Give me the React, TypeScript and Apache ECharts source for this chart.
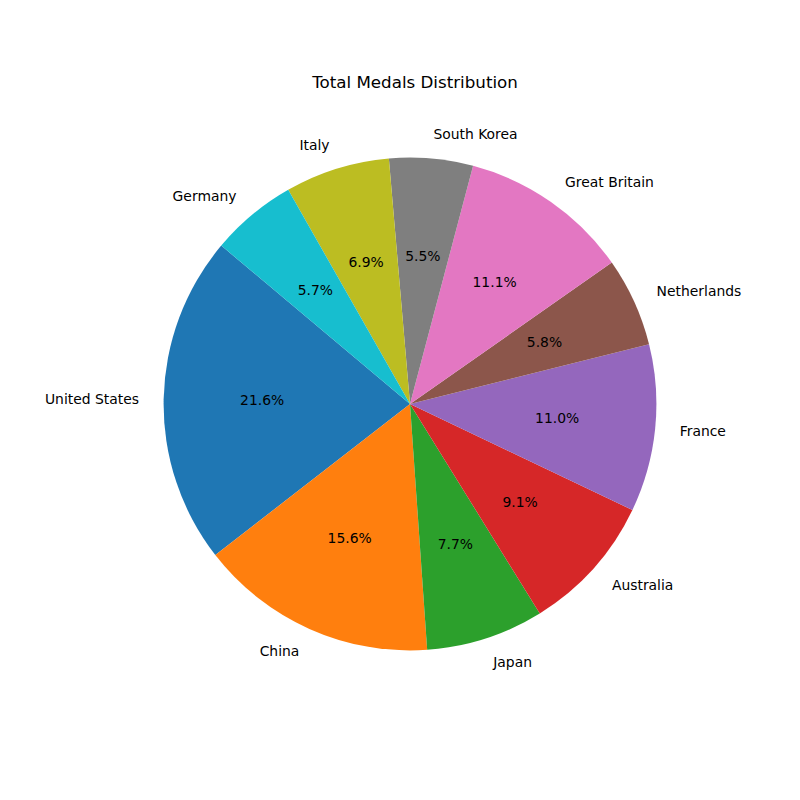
import React, { useEffect, useRef } from "react";
import * as echarts from "echarts";

const countries = [
  "United States",
  "China",
  "Japan",
  "Australia",
  "France",
  "Netherlands",
  "Great Britain",
  "South Korea",
  "Italy",
  "Germany",
];
const totalMedals = [126, 91, 45, 53, 64, 34, 65, 32, 40, 33];
const colors = [
  "#1f77b4",
  "#ff7f0e",
  "#2ca02c",
  "#d62728",
  "#9467bd",
  "#8c564b",
  "#e377c2",
  "#7f7f7f",
  "#bcbd22",
  "#17becf",
];
const titleText = "Total Medals Distribution";

const R = 246.4;
const CX = 410;
const CY = 404;
const FONT = "DejaVu Sans";

export default function App() {
  const ref = useRef<HTMLDivElement>(null);
  useEffect(() => {
    if (!ref.current) return;
    const chart = echarts.init(ref.current, undefined, { renderer: "svg" });
    const total = totalMedals.reduce((a, b) => a + b, 0);
    const base = {
      type: "pie",
      center: [CX, CY - 0.7],
      startAngle: 140,
      clockwise: false,
      avoidLabelOverlap: false,
      silent: true,
      minAngle: 0,
      emphasis: { disabled: true },
    };
    chart.setOption({
      animation: false,
      backgroundColor: "#ffffff",
      title: {
        text: titleText,
        left: CX,
        top: 68,
        textAlign: "center",
        textStyle: { fontFamily: FONT, fontSize: 16.7, fontWeight: "normal", color: "#000" },
      },
      series: [
        {
          ...base,
          center: [CX, CY],
          radius: [0, R],
          data: countries.map((c, i) => ({
            name: c,
            value: totalMedals[i],
            itemStyle: { color: colors[i], borderWidth: 0 },
          })),
          label: {
            show: true,
            position: "outside",
            fontFamily: FONT,
            fontSize: 13.9,
            color: "#000",
            distanceToLabelLine: 0,
            padding: [0, 0, 2, 0],
          },
          labelLine: { show: false, length: R * 0.1, length2: 0 },
        },
        {
          ...base,
          radius: [0, R * 1.2 - 6],
          z: 3,
          data: countries.map((c, i) => ({
            name: c + "_pct",
            value: totalMedals[i],
            itemStyle: { color: "rgba(0,0,0,0)", borderWidth: 0 },
          })),
          label: {
            show: true,
            position: "inside",
            fontFamily: FONT,
            fontSize: 13.9,
            color: "#000",
            formatter: (p: any) => ((p.value / total) * 100).toFixed(1) + "%",
          },
          labelLine: { show: false },
        },
      ],
    });
    return () => chart.dispose();
  }, []);
  return (
    <div
      ref={ref}
      style={{ position: "fixed", left: 0, top: 0, width: 800, height: 800 }}
    />
  );
}
